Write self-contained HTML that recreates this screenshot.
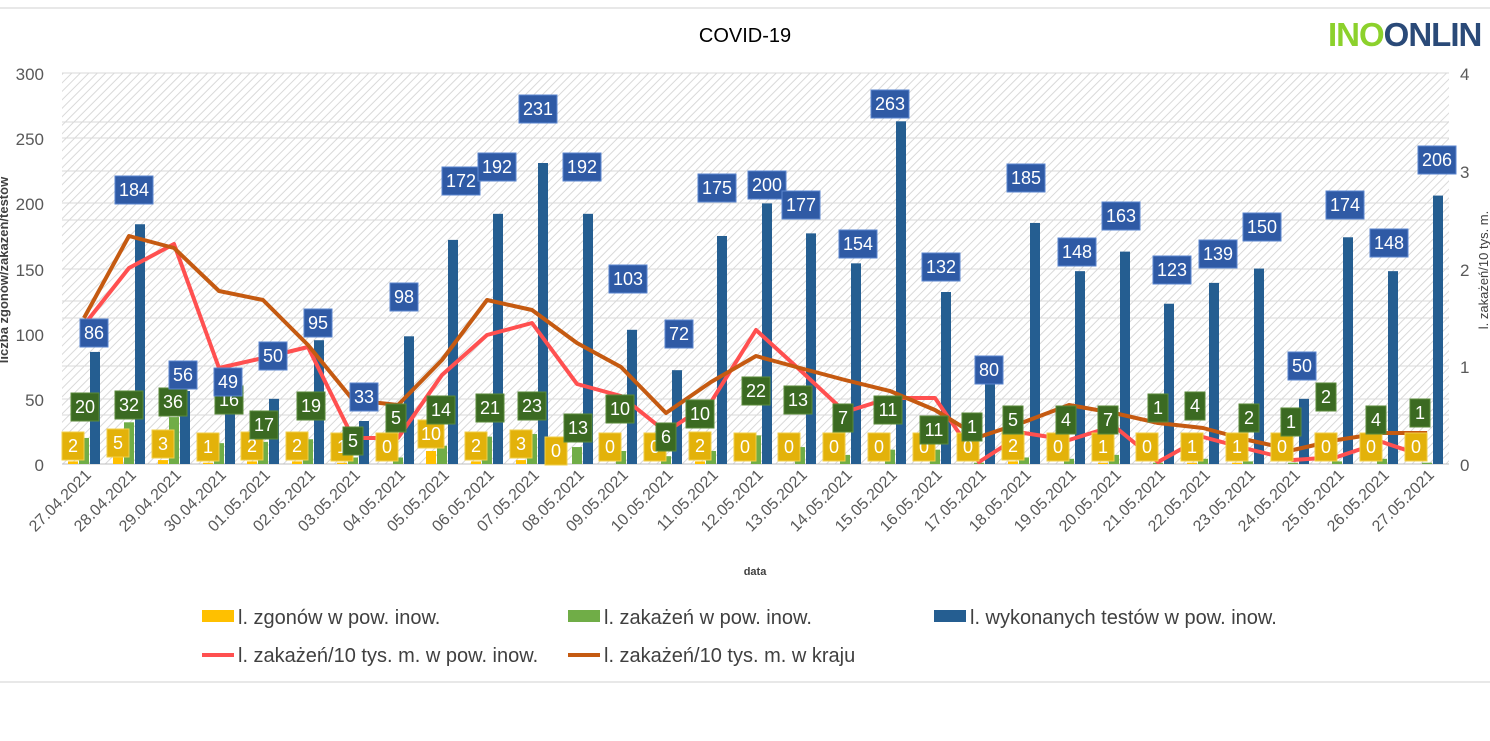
<!DOCTYPE html>
<html><head><meta charset="utf-8"><style>
body{margin:0;background:#fff;width:1490px;height:736px;overflow:hidden}
svg{font-family:"Liberation Sans",sans-serif}
.b text,.g text,.y text{fill:#fff;font-size:18px;text-anchor:middle}
.b rect{fill:#2f5aa5;stroke:#5b86cf;stroke-width:1}
.g rect{fill:#3b6a22;stroke:#5a8a3a;stroke-width:1}
.y rect{fill:#e3b20a;stroke:#f2cf4a;stroke-width:1}
.xl{font-size:16px;fill:#595959;text-anchor:end}
.ax{font-size:17px;fill:#595959}
</style></head><body>
<svg width="1490" height="736" viewBox="0 0 1490 736">
<defs><pattern id="h" width="6" height="6" patternUnits="userSpaceOnUse" patternTransform="rotate(45)"><rect width="6" height="6" fill="#fff"/><line x1="0" y1="0" x2="0" y2="6" stroke="#d9d9d9" stroke-width="2"/></pattern></defs>
<line x1="0" y1="8" x2="1490" y2="8" stroke="#d0d0d0"/>
<line x1="0" y1="682" x2="1490" y2="682" stroke="#d0d0d0"/>
<text x="745" y="42" font-size="20" text-anchor="middle" fill="#000">COVID-19</text>
<text x="1328" y="46" font-size="33" font-weight="bold" letter-spacing="-1"><tspan fill="#8cd12c">INO</tspan><tspan fill="#2a4a78">ONLIN</tspan></text>
<rect x="62" y="73" width="1387" height="391" fill="url(#h)"/>
<g stroke="#d9d9d9" stroke-width="1">
<line x1="62" y1="73" x2="1449" y2="73"/><line x1="62" y1="122" x2="1449" y2="122"/><line x1="62" y1="138" x2="1449" y2="138"/><line x1="62" y1="171" x2="1449" y2="171"/><line x1="62" y1="203" x2="1449" y2="203"/><line x1="62" y1="220" x2="1449" y2="220"/><line x1="62" y1="269" x2="1449" y2="269"/><line x1="62" y1="301" x2="1449" y2="301"/><line x1="62" y1="318" x2="1449" y2="318"/><line x1="62" y1="366" x2="1449" y2="366"/><line x1="62" y1="399" x2="1449" y2="399"/><line x1="62" y1="415" x2="1449" y2="415"/>
</g>
<line x1="62" y1="464" x2="1449" y2="464" stroke="#bfbfbf"/>
<g class="ax" text-anchor="end"><text x="44" y="80">300</text><text x="44" y="145">250</text><text x="44" y="210">200</text><text x="44" y="276">150</text><text x="44" y="341">100</text><text x="44" y="406">50</text><text x="44" y="471">0</text></g>
<g class="ax"><text x="1460" y="80">4</text><text x="1460" y="178">3</text><text x="1460" y="276">2</text><text x="1460" y="373">1</text><text x="1460" y="471">0</text></g>
<text transform="translate(8,270) rotate(-90)" font-size="13" font-weight="bold" fill="#404040" text-anchor="middle">liczba zgonów/zakażeń/testów</text>
<text transform="translate(1488,270) rotate(-90)" font-size="13" fill="#404040" text-anchor="middle">l. zakażeń/10 tys. m.</text>
<text x="755" y="575" font-size="11" font-weight="bold" fill="#404040" text-anchor="middle">data</text>

<g>
<g transform="translate(84,464) scale(1,-1.303)"><rect x="-16" width="10" height="2" fill="#ffc000"/><rect x="-5" width="10" height="20" fill="#70ad47"/><rect x="6" width="10" height="86" fill="#255e91"/></g>
<g transform="translate(129,464) scale(1,-1.303)"><rect x="-16" width="10" height="5" fill="#ffc000"/><rect x="-5" width="10" height="32" fill="#70ad47"/><rect x="6" width="10" height="184" fill="#255e91"/></g>
<g transform="translate(174,464) scale(1,-1.303)"><rect x="-16" width="10" height="3" fill="#ffc000"/><rect x="-5" width="10" height="36" fill="#70ad47"/><rect x="6" width="10" height="56" fill="#255e91"/></g>
<g transform="translate(219,464) scale(1,-1.303)"><rect x="-16" width="10" height="1" fill="#ffc000"/><rect x="-5" width="10" height="16" fill="#70ad47"/><rect x="6" width="10" height="49" fill="#255e91"/></g>
<g transform="translate(263,464) scale(1,-1.303)"><rect x="-16" width="10" height="2" fill="#ffc000"/><rect x="-5" width="10" height="17" fill="#70ad47"/><rect x="6" width="10" height="50" fill="#255e91"/></g>
<g transform="translate(308,464) scale(1,-1.303)"><rect x="-16" width="10" height="2" fill="#ffc000"/><rect x="-5" width="10" height="19" fill="#70ad47"/><rect x="6" width="10" height="95" fill="#255e91"/></g>
<g transform="translate(353,464) scale(1,-1.303)"><rect x="-16" width="10" height="1" fill="#ffc000"/><rect x="-5" width="10" height="5" fill="#70ad47"/><rect x="6" width="10" height="33" fill="#255e91"/></g>
<g transform="translate(398,464) scale(1,-1.303)"><rect x="-5" width="10" height="5" fill="#70ad47"/><rect x="6" width="10" height="98" fill="#255e91"/></g>
<g transform="translate(442,464) scale(1,-1.303)"><rect x="-16" width="10" height="10" fill="#ffc000"/><rect x="-5" width="10" height="14" fill="#70ad47"/><rect x="6" width="10" height="172" fill="#255e91"/></g>
<g transform="translate(487,464) scale(1,-1.303)"><rect x="-16" width="10" height="2" fill="#ffc000"/><rect x="-5" width="10" height="21" fill="#70ad47"/><rect x="6" width="10" height="192" fill="#255e91"/></g>
<g transform="translate(532,464) scale(1,-1.303)"><rect x="-16" width="10" height="3" fill="#ffc000"/><rect x="-5" width="10" height="23" fill="#70ad47"/><rect x="6" width="10" height="231" fill="#255e91"/></g>
<g transform="translate(577,464) scale(1,-1.303)"><rect x="-5" width="10" height="13" fill="#70ad47"/><rect x="6" width="10" height="192" fill="#255e91"/></g>
<g transform="translate(621,464) scale(1,-1.303)"><rect x="-5" width="10" height="10" fill="#70ad47"/><rect x="6" width="10" height="103" fill="#255e91"/></g>
<g transform="translate(666,464) scale(1,-1.303)"><rect x="-5" width="10" height="6" fill="#70ad47"/><rect x="6" width="10" height="72" fill="#255e91"/></g>
<g transform="translate(711,464) scale(1,-1.303)"><rect x="-16" width="10" height="2" fill="#ffc000"/><rect x="-5" width="10" height="10" fill="#70ad47"/><rect x="6" width="10" height="175" fill="#255e91"/></g>
<g transform="translate(756,464) scale(1,-1.303)"><rect x="-5" width="10" height="22" fill="#70ad47"/><rect x="6" width="10" height="200" fill="#255e91"/></g>
<g transform="translate(800,464) scale(1,-1.303)"><rect x="-5" width="10" height="13" fill="#70ad47"/><rect x="6" width="10" height="177" fill="#255e91"/></g>
<g transform="translate(845,464) scale(1,-1.303)"><rect x="-5" width="10" height="7" fill="#70ad47"/><rect x="6" width="10" height="154" fill="#255e91"/></g>
<g transform="translate(890,464) scale(1,-1.303)"><rect x="-5" width="10" height="11" fill="#70ad47"/><rect x="6" width="10" height="263" fill="#255e91"/></g>
<g transform="translate(935,464) scale(1,-1.303)"><rect x="-5" width="10" height="11" fill="#70ad47"/><rect x="6" width="10" height="132" fill="#255e91"/></g>
<g transform="translate(979,464) scale(1,-1.303)"><rect x="-5" width="10" height="1" fill="#70ad47"/><rect x="6" width="10" height="80" fill="#255e91"/></g>
<g transform="translate(1024,464) scale(1,-1.303)"><rect x="-16" width="10" height="2" fill="#ffc000"/><rect x="-5" width="10" height="5" fill="#70ad47"/><rect x="6" width="10" height="185" fill="#255e91"/></g>
<g transform="translate(1069,464) scale(1,-1.303)"><rect x="-5" width="10" height="4" fill="#70ad47"/><rect x="6" width="10" height="148" fill="#255e91"/></g>
<g transform="translate(1114,464) scale(1,-1.303)"><rect x="-16" width="10" height="1" fill="#ffc000"/><rect x="-5" width="10" height="7" fill="#70ad47"/><rect x="6" width="10" height="163" fill="#255e91"/></g>
<g transform="translate(1158,464) scale(1,-1.303)"><rect x="-5" width="10" height="1" fill="#70ad47"/><rect x="6" width="10" height="123" fill="#255e91"/></g>
<g transform="translate(1203,464) scale(1,-1.303)"><rect x="-16" width="10" height="1" fill="#ffc000"/><rect x="-5" width="10" height="4" fill="#70ad47"/><rect x="6" width="10" height="139" fill="#255e91"/></g>
<g transform="translate(1248,464) scale(1,-1.303)"><rect x="-16" width="10" height="1" fill="#ffc000"/><rect x="-5" width="10" height="2" fill="#70ad47"/><rect x="6" width="10" height="150" fill="#255e91"/></g>
<g transform="translate(1293,464) scale(1,-1.303)"><rect x="-5" width="10" height="1" fill="#70ad47"/><rect x="6" width="10" height="50" fill="#255e91"/></g>
<g transform="translate(1337,464) scale(1,-1.303)"><rect x="-5" width="10" height="2" fill="#70ad47"/><rect x="6" width="10" height="174" fill="#255e91"/></g>
<g transform="translate(1382,464) scale(1,-1.303)"><rect x="-5" width="10" height="4" fill="#70ad47"/><rect x="6" width="10" height="148" fill="#255e91"/></g>
<g transform="translate(1427,464) scale(1,-1.303)"><rect x="-5" width="10" height="1" fill="#70ad47"/><rect x="6" width="10" height="206" fill="#255e91"/></g>
</g>

<polyline fill="none" stroke="#ff5050" stroke-width="4" stroke-linejoin="round" points="84,325 129,268 174,244 219,368 263,358 308,347 353,438 398,438 442,375 487,335 532,323 577,384 621,396 666,432 711,402 756,330 800,370 845,412 890,398 935,398 979,462 1024,433 1069,440 1114,426 1158,462 1203,437 1248,449 1293,460 1337,457 1382,442 1427,457"/>
<polyline fill="none" stroke="#c55a11" stroke-width="4" stroke-linejoin="round" points="84,318 129,236 174,248 219,291 263,300 308,345 353,400 398,405 442,360 487,300 532,310 577,343 621,367 666,413 711,382 756,356 800,368 845,380 890,391 935,410 979,437 1024,422 1069,405 1114,413 1158,423 1203,428 1248,440 1293,450 1337,440 1382,433 1427,433"/>

<g class="y">
<g transform="translate(73,446)"><rect x="-11" y="-14" width="22" height="28"/><text y="6">2</text></g>
<g transform="translate(118,443)"><rect x="-11" y="-14" width="22" height="28"/><text y="6">5</text></g>
<g transform="translate(163,444)"><rect x="-11" y="-14" width="22" height="28"/><text y="6">3</text></g>
<g transform="translate(208,447)"><rect x="-11" y="-14" width="22" height="28"/><text y="6">1</text></g>
<g transform="translate(252,446)"><rect x="-11" y="-14" width="22" height="28"/><text y="6">2</text></g>
<g transform="translate(297,446)"><rect x="-11" y="-14" width="22" height="28"/><text y="6">2</text></g>
<g transform="translate(342,447)"><rect x="-11" y="-14" width="22" height="28"/><text y="6">1</text></g>
<g transform="translate(387,447)"><rect x="-11" y="-14" width="22" height="28"/><text y="6">0</text></g>
<g transform="translate(431,434)"><rect x="-13" y="-14" width="26" height="28"/><text y="6">10</text></g>
<g transform="translate(476,446)"><rect x="-11" y="-14" width="22" height="28"/><text y="6">2</text></g>
<g transform="translate(521,444)"><rect x="-11" y="-14" width="22" height="28"/><text y="6">3</text></g>
<g transform="translate(556,451)"><rect x="-11" y="-14" width="22" height="28"/><text y="6">0</text></g>
<g transform="translate(610,447)"><rect x="-11" y="-14" width="22" height="28"/><text y="6">0</text></g>
<g transform="translate(655,447)"><rect x="-11" y="-14" width="22" height="28"/><text y="6">0</text></g>
<g transform="translate(700,446)"><rect x="-11" y="-14" width="22" height="28"/><text y="6">2</text></g>
<g transform="translate(745,447)"><rect x="-11" y="-14" width="22" height="28"/><text y="6">0</text></g>
<g transform="translate(789,447)"><rect x="-11" y="-14" width="22" height="28"/><text y="6">0</text></g>
<g transform="translate(834,447)"><rect x="-11" y="-14" width="22" height="28"/><text y="6">0</text></g>
<g transform="translate(879,447)"><rect x="-11" y="-14" width="22" height="28"/><text y="6">0</text></g>
<g transform="translate(924,447)"><rect x="-11" y="-14" width="22" height="28"/><text y="6">0</text></g>
<g transform="translate(968,447)"><rect x="-11" y="-14" width="22" height="28"/><text y="6">0</text></g>
<g transform="translate(1013,446)"><rect x="-11" y="-14" width="22" height="28"/><text y="6">2</text></g>
<g transform="translate(1058,447)"><rect x="-11" y="-14" width="22" height="28"/><text y="6">0</text></g>
<g transform="translate(1103,447)"><rect x="-11" y="-14" width="22" height="28"/><text y="6">1</text></g>
<g transform="translate(1147,447)"><rect x="-11" y="-14" width="22" height="28"/><text y="6">0</text></g>
<g transform="translate(1192,447)"><rect x="-11" y="-14" width="22" height="28"/><text y="6">1</text></g>
<g transform="translate(1237,447)"><rect x="-11" y="-14" width="22" height="28"/><text y="6">1</text></g>
<g transform="translate(1282,447)"><rect x="-11" y="-14" width="22" height="28"/><text y="6">0</text></g>
<g transform="translate(1326,447)"><rect x="-11" y="-14" width="22" height="28"/><text y="6">0</text></g>
<g transform="translate(1371,447)"><rect x="-11" y="-14" width="22" height="28"/><text y="6">0</text></g>
<g transform="translate(1416,447)"><rect x="-11" y="-14" width="22" height="28"/><text y="6">0</text></g>
</g>

<g class="g">
<g transform="translate(85,407)"><rect x="-14" y="-14" width="28" height="28"/><text y="6">20</text></g>
<g transform="translate(129,405)"><rect x="-14" y="-14" width="28" height="28"/><text y="6">32</text></g>
<g transform="translate(173,402)"><rect x="-14" y="-14" width="28" height="28"/><text y="6">36</text></g>
<g transform="translate(229,400)"><rect x="-14" y="-14" width="28" height="28"/><text y="6">16</text></g>
<g transform="translate(264,425)"><rect x="-14" y="-14" width="28" height="28"/><text y="6">17</text></g>
<g transform="translate(311,406)"><rect x="-14" y="-14" width="28" height="28"/><text y="6">19</text></g>
<g transform="translate(353,441)"><rect x="-10" y="-14" width="20" height="28"/><text y="6">5</text></g>
<g transform="translate(396,418)"><rect x="-10" y="-14" width="20" height="28"/><text y="6">5</text></g>
<g transform="translate(441,410)"><rect x="-14" y="-14" width="28" height="28"/><text y="6">14</text></g>
<g transform="translate(490,408)"><rect x="-14" y="-14" width="28" height="28"/><text y="6">21</text></g>
<g transform="translate(532,406)"><rect x="-14" y="-14" width="28" height="28"/><text y="6">23</text></g>
<g transform="translate(578,428)"><rect x="-14" y="-14" width="28" height="28"/><text y="6">13</text></g>
<g transform="translate(620,409)"><rect x="-14" y="-14" width="28" height="28"/><text y="6">10</text></g>
<g transform="translate(666,437)"><rect x="-10" y="-14" width="20" height="28"/><text y="6">6</text></g>
<g transform="translate(700,414)"><rect x="-14" y="-14" width="28" height="28"/><text y="6">10</text></g>
<g transform="translate(756,391)"><rect x="-14" y="-14" width="28" height="28"/><text y="6">22</text></g>
<g transform="translate(798,400)"><rect x="-14" y="-14" width="28" height="28"/><text y="6">13</text></g>
<g transform="translate(843,418)"><rect x="-10" y="-14" width="20" height="28"/><text y="6">7</text></g>
<g transform="translate(888,410)"><rect x="-14" y="-14" width="28" height="28"/><text y="6">11</text></g>
<g transform="translate(934,430)"><rect x="-14" y="-14" width="28" height="28"/><text y="6">11</text></g>
<g transform="translate(972,427)"><rect x="-10" y="-14" width="20" height="28"/><text y="6">1</text></g>
<g transform="translate(1013,420)"><rect x="-10" y="-14" width="20" height="28"/><text y="6">5</text></g>
<g transform="translate(1066,420)"><rect x="-10" y="-14" width="20" height="28"/><text y="6">4</text></g>
<g transform="translate(1108,420)"><rect x="-10" y="-14" width="20" height="28"/><text y="6">7</text></g>
<g transform="translate(1158,408)"><rect x="-10" y="-14" width="20" height="28"/><text y="6">1</text></g>
<g transform="translate(1195,406)"><rect x="-10" y="-14" width="20" height="28"/><text y="6">4</text></g>
<g transform="translate(1249,418)"><rect x="-10" y="-14" width="20" height="28"/><text y="6">2</text></g>
<g transform="translate(1291,422)"><rect x="-10" y="-14" width="20" height="28"/><text y="6">1</text></g>
<g transform="translate(1326,397)"><rect x="-10" y="-14" width="20" height="28"/><text y="6">2</text></g>
<g transform="translate(1376,420)"><rect x="-10" y="-14" width="20" height="28"/><text y="6">4</text></g>
<g transform="translate(1420,413)"><rect x="-10" y="-14" width="20" height="28"/><text y="6">1</text></g>
</g>

<g class="b">
<g transform="translate(94,333)"><rect x="-14" y="-14" width="28" height="28"/><text y="6">86</text></g>
<g transform="translate(134,190)"><rect x="-19" y="-14" width="38" height="28"/><text y="6">184</text></g>
<g transform="translate(183,375)"><rect x="-14" y="-14" width="28" height="28"/><text y="6">56</text></g>
<g transform="translate(228,382)"><rect x="-14" y="-14" width="28" height="28"/><text y="6">49</text></g>
<g transform="translate(273,356)"><rect x="-14" y="-14" width="28" height="28"/><text y="6">50</text></g>
<g transform="translate(318,323)"><rect x="-14" y="-14" width="28" height="28"/><text y="6">95</text></g>
<g transform="translate(364,397)"><rect x="-14" y="-14" width="28" height="28"/><text y="6">33</text></g>
<g transform="translate(404,297)"><rect x="-14" y="-14" width="28" height="28"/><text y="6">98</text></g>
<g transform="translate(461,181)"><rect x="-19" y="-14" width="38" height="28"/><text y="6">172</text></g>
<g transform="translate(497,167)"><rect x="-19" y="-14" width="38" height="28"/><text y="6">192</text></g>
<g transform="translate(538,109)"><rect x="-19" y="-14" width="38" height="28"/><text y="6">231</text></g>
<g transform="translate(582,167)"><rect x="-19" y="-14" width="38" height="28"/><text y="6">192</text></g>
<g transform="translate(628,279)"><rect x="-19" y="-14" width="38" height="28"/><text y="6">103</text></g>
<g transform="translate(679,334)"><rect x="-14" y="-14" width="28" height="28"/><text y="6">72</text></g>
<g transform="translate(717,188)"><rect x="-19" y="-14" width="38" height="28"/><text y="6">175</text></g>
<g transform="translate(767,185)"><rect x="-19" y="-14" width="38" height="28"/><text y="6">200</text></g>
<g transform="translate(801,205)"><rect x="-19" y="-14" width="38" height="28"/><text y="6">177</text></g>
<g transform="translate(858,244)"><rect x="-19" y="-14" width="38" height="28"/><text y="6">154</text></g>
<g transform="translate(890,104)"><rect x="-19" y="-14" width="38" height="28"/><text y="6">263</text></g>
<g transform="translate(941,267)"><rect x="-19" y="-14" width="38" height="28"/><text y="6">132</text></g>
<g transform="translate(989,370)"><rect x="-14" y="-14" width="28" height="28"/><text y="6">80</text></g>
<g transform="translate(1026,178)"><rect x="-19" y="-14" width="38" height="28"/><text y="6">185</text></g>
<g transform="translate(1077,252)"><rect x="-19" y="-14" width="38" height="28"/><text y="6">148</text></g>
<g transform="translate(1121,216)"><rect x="-19" y="-14" width="38" height="28"/><text y="6">163</text></g>
<g transform="translate(1172,270)"><rect x="-19" y="-14" width="38" height="28"/><text y="6">123</text></g>
<g transform="translate(1218,254)"><rect x="-19" y="-14" width="38" height="28"/><text y="6">139</text></g>
<g transform="translate(1262,227)"><rect x="-19" y="-14" width="38" height="28"/><text y="6">150</text></g>
<g transform="translate(1302,366)"><rect x="-14" y="-14" width="28" height="28"/><text y="6">50</text></g>
<g transform="translate(1345,205)"><rect x="-19" y="-14" width="38" height="28"/><text y="6">174</text></g>
<g transform="translate(1389,243)"><rect x="-19" y="-14" width="38" height="28"/><text y="6">148</text></g>
<g transform="translate(1437,160)"><rect x="-19" y="-14" width="38" height="28"/><text y="6">206</text></g>
</g>

<g class="xl">
<text transform="translate(92,476) rotate(-45)">27.04.2021</text>
<text transform="translate(137,476) rotate(-45)">28.04.2021</text>
<text transform="translate(182,476) rotate(-45)">29.04.2021</text>
<text transform="translate(227,476) rotate(-45)">30.04.2021</text>
<text transform="translate(271,476) rotate(-45)">01.05.2021</text>
<text transform="translate(316,476) rotate(-45)">02.05.2021</text>
<text transform="translate(361,476) rotate(-45)">03.05.2021</text>
<text transform="translate(406,476) rotate(-45)">04.05.2021</text>
<text transform="translate(450,476) rotate(-45)">05.05.2021</text>
<text transform="translate(495,476) rotate(-45)">06.05.2021</text>
<text transform="translate(540,476) rotate(-45)">07.05.2021</text>
<text transform="translate(585,476) rotate(-45)">08.05.2021</text>
<text transform="translate(629,476) rotate(-45)">09.05.2021</text>
<text transform="translate(674,476) rotate(-45)">10.05.2021</text>
<text transform="translate(719,476) rotate(-45)">11.05.2021</text>
<text transform="translate(764,476) rotate(-45)">12.05.2021</text>
<text transform="translate(808,476) rotate(-45)">13.05.2021</text>
<text transform="translate(853,476) rotate(-45)">14.05.2021</text>
<text transform="translate(898,476) rotate(-45)">15.05.2021</text>
<text transform="translate(943,476) rotate(-45)">16.05.2021</text>
<text transform="translate(987,476) rotate(-45)">17.05.2021</text>
<text transform="translate(1032,476) rotate(-45)">18.05.2021</text>
<text transform="translate(1077,476) rotate(-45)">19.05.2021</text>
<text transform="translate(1122,476) rotate(-45)">20.05.2021</text>
<text transform="translate(1166,476) rotate(-45)">21.05.2021</text>
<text transform="translate(1211,476) rotate(-45)">22.05.2021</text>
<text transform="translate(1256,476) rotate(-45)">23.05.2021</text>
<text transform="translate(1301,476) rotate(-45)">24.05.2021</text>
<text transform="translate(1345,476) rotate(-45)">25.05.2021</text>
<text transform="translate(1390,476) rotate(-45)">26.05.2021</text>
<text transform="translate(1435,476) rotate(-45)">27.05.2021</text>
</g>

<g font-size="20" fill="#404040">
<rect x="202" y="610" width="32" height="12" fill="#ffc000"/><text x="238" y="624">l. zgonów w pow. inow.</text>
<rect x="568" y="610" width="32" height="12" fill="#70ad47"/><text x="604" y="624">l. zakażeń w pow. inow.</text>
<rect x="934" y="610" width="32" height="12" fill="#255e91"/><text x="970" y="624">l. wykonanych testów w pow. inow.</text>
<line x1="202" y1="655" x2="234" y2="655" stroke="#ff5050" stroke-width="4"/><text x="238" y="662">l. zakażeń/10 tys. m. w pow. inow.</text>
<line x1="568" y1="655" x2="600" y2="655" stroke="#c55a11" stroke-width="4"/><text x="604" y="662">l. zakażeń/10 tys. m. w kraju</text>
</g>
</svg>
</body></html>
